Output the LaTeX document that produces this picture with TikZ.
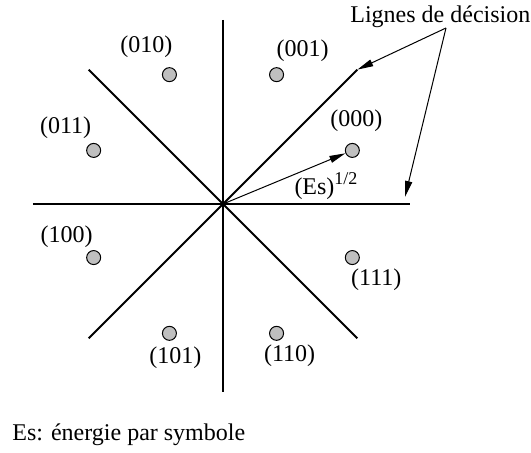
\documentclass[tikz,border=0pt]{standalone}
\usepackage{fontspec}
\setmainfont{Liberation Serif}
\usepackage{tikz}
\usetikzlibrary{arrows.meta}
\tikzset{
    symb/.style={circle, draw, line width=0.5pt, fill=gray!50, minimum size=7pt, inner sep=0pt},
    lbl/.style={font=\fontsize{12pt}{14pt}\selectfont, inner sep=0pt},
    decline/.style={line width=1pt},
    thinarrow/.style={-{Triangle[length=8pt, width=3.5pt]}, line width=0.5pt}
}
\begin{document}
\begin{tikzpicture}[x=0.5pt, y=0.5pt]
        \useasboundingbox (-223,-249) rectangle (308,204);
        \coordinate (o) at (0,0);
        \coordinate (w) at (-190,0);
        \coordinate (e) at (187,0);
        \coordinate (n) at (0,184);
        \coordinate (s) at (0,-188);
        \coordinate (hmark) at (182,7);

        % decision lines
        \draw[decline] (w) -- (e);
        \draw[decline] (n) -- (s);
        \foreach \ang in {45,135,225,315}
            \coordinate (d\ang) at (\ang:190);
        \draw[decline] (d45) -- (d225);
        \draw[decline] (d135) -- (d315);

        % 8-PSK symbols
        \foreach \code/\ang/\dx/\dy in {000/22.5/4/30, 001/67.5/26/24, 010/112.5/-23/28, 011/157.5/-28/23,
                                        100/202.5/-27/21, 101/247.5/6/-24, 110/292.5/13/-22, 111/337.5/24/-22} {
            \node[symb] (p\code) at (\ang:140) {};
            \node[lbl] (l\code) at ([shift={(\dx,\dy)}]p\code.center) {(\code)};
        }

        \draw[thinarrow] (o) -- (p000);
        \node[lbl] (es) at (103,18) {(Es)\raisebox{5pt}{\fontsize{9pt}{10pt}\selectfont 1/2}};

        \node[lbl, anchor=west] (lignes) at (127,187) {Lignes de décision};
        \coordinate (src) at (223,176);
        \draw[thinarrow] (src) -- (d45);
        \draw[thinarrow] (src) -- (hmark);

        \node[lbl, anchor=west] (legend) at (-211,-231) {Es: énergie par symbole};
    \end{tikzpicture}
\end{document}
